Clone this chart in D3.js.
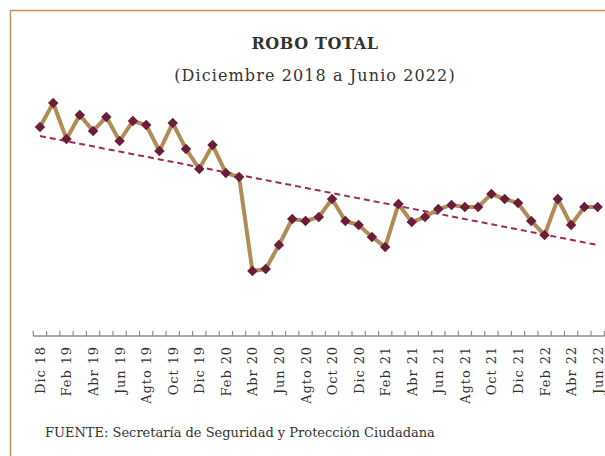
<!DOCTYPE html>
<html>
<head>
<meta charset="utf-8">
<script src="https://cdn.jsdelivr.net/npm/d3@7"></script>
<style>
  body { margin: 0; background: #fff; }
  text { font-family: "DejaVu Serif", serif; fill: #333; }
</style>
</head>
<body>
<div id="chart"></div>
<script>
// months Dic 2018 .. Jun 2022
const months = [
  'Dic 18','Ene 19','Feb 19','Mar 19','Abr 19','May 19','Jun 19','Jul 19','Agto 19','Sep 19','Oct 19','Nov 19',
  'Dic 19','Ene 20','Feb 20','Mar 20','Abr 20','May 20','Jun 20','Jul 20','Agto 20','Sep 20','Oct 20','Nov 20',
  'Dic 20','Ene 21','Feb 21','Mar 21','Abr 21','May 21','Jun 21','Jul 21','Agto 21','Sep 21','Oct 21','Nov 21',
  'Dic 21','Ene 22','Feb 22','Mar 22','Abr 22','May 22','Jun 22'
];
const robo = [
  56080, 57920, 55150, 57000, 55770, 56850, 55000, 56540, 56230, 54230, 56380, 54380,
  52850, 54690, 52540, 52230, 45000, 45150, 47000, 49000, 48850, 49150, 50540, 48850,
  48540, 47620, 46850, 50150, 48770, 49150, 49770, 50080, 49920, 49920, 50920, 50540,
  50230, 48850, 47770, 50540, 48540, 49920, 49920
];
// trend line ends (Dic 18, Jun 22)
const trendMonths = ['Dic 18', 'Jun 22'];
const trendValues = [55385, 47000];
const yDomain = [40000, 60000];

const W = 605, H = 456;
const svg = d3.select('#chart').append('svg')
  .attr('width', W).attr('height', H);

// frame
svg.append('path')
  .attr('d', `M10.5,${H} V10.5 H${W}`)
  .attr('fill', 'none')
  .attr('stroke', '#b9975b')
  .attr('stroke-width', 1.5);

svg.append('text')
  .attr('x', 315).attr('y', 49)
  .attr('text-anchor', 'middle')
  .attr('font-size', 16)
  .attr('font-weight', 'bold')
  .attr('letter-spacing', 0.6)
  .text('ROBO TOTAL');

svg.append('text')
  .attr('x', 315).attr('y', 81)
  .attr('text-anchor', 'middle')
  .attr('font-size', 16)
  .attr('letter-spacing', 1.1)
  .text('(Diciembre 2018 a Junio 2022)');

const x = d3.scaleBand().domain(months).range([33.3, 604.3]).padding(0);
const y = d3.scaleLinear().domain(yDomain).range([336, 76]);
const cx = d => x(d) + x.bandwidth() / 2;

// axis
const axisY = 336;
svg.append('line')
  .attr('x1', 33.3).attr('x2', 604.3)
  .attr('y1', axisY).attr('y2', axisY)
  .attr('stroke', '#8c8c8c').attr('stroke-width', 1.5);

svg.append('g')
  .selectAll('line')
  .data(months.concat(['end']))
  .join('line')
  .attr('x1', (d, i) => i < months.length ? x(d) : 604.3)
  .attr('x2', (d, i) => i < months.length ? x(d) : 604.3)
  .attr('y1', axisY).attr('y2', axisY - 5)
  .attr('stroke', '#8c8c8c').attr('stroke-width', 1.2);

svg.append('g')
  .selectAll('text')
  .data(months.filter((d, i) => i % 2 === 0))
  .join('text')
  .attr('transform', d => `translate(${cx(d) + 5},${axisY + 10}) rotate(-90)`)
  .attr('text-anchor', 'end')
  .attr('font-size', 13)
  .attr('letter-spacing', 0.9)
  .text(d => d);

// trend
svg.append('line')
  .attr('x1', cx(trendMonths[0])).attr('y1', y(trendValues[0]))
  .attr('x2', cx(trendMonths[1])).attr('y2', y(trendValues[1]))
  .attr('stroke', '#9e2a57')
  .attr('stroke-width', 2)
  .attr('stroke-dasharray', '6,4');

// series
const line = d3.line()
  .x((d, i) => cx(months[i]))
  .y(d => y(d));

svg.append('path')
  .datum(robo)
  .attr('d', line)
  .attr('fill', 'none')
  .attr('stroke', '#b08d57')
  .attr('stroke-width', 4);

svg.append('g')
  .selectAll('path')
  .data(robo)
  .join('path')
  .attr('d', d3.symbol().type(d3.symbolDiamond2).size(70))
  .attr('transform', (d, i) => `translate(${cx(months[i])},${y(d)})`)
  .attr('fill', '#6b1d3a');

svg.append('text')
  .attr('x', 45).attr('y', 437)
  .attr('font-size', 13)
  .text('FUENTE: Secretaría de Seguridad y Protección Ciudadana');
</script>
</body>
</html>
